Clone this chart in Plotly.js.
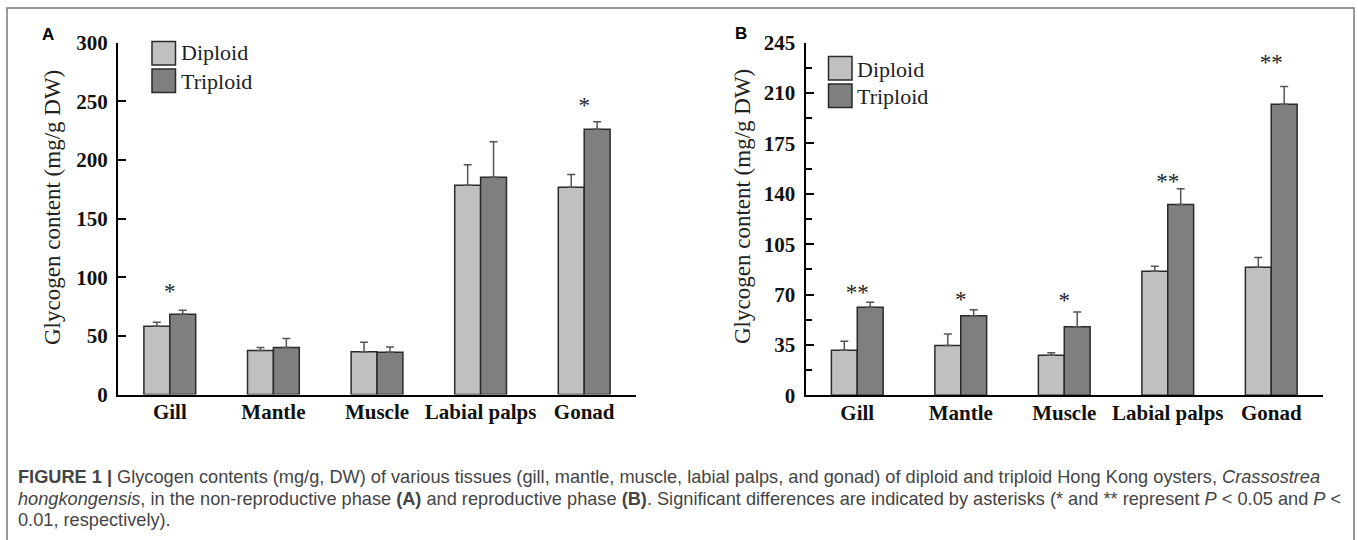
<!DOCTYPE html>
<html>
<head>
<meta charset="utf-8">
<script src="https://cdn.plot.ly/plotly-3.0.1.min.js"></script>
<style>html,body{margin:0;padding:0;background:#fff;}#chart{width:1358px;height:540px;}</style>
</head>
<body>
<div id="chart"></div>
<script>
// ---- data ----
const categories = ["Gill", "Mantle", "Muscle", "Labial palps", "Gonad"];

// Panel A: non-reproductive phase
const diploidA = [58.2, 37.5, 36.4, 178.4, 176.7];
const diploidErrA = [3.4, 2.5, 8.2, 17.6, 10.8];
const triploidA = [68.5, 40.0, 36.1, 185.2, 226.1];
const triploidErrA = [3.4, 7.7, 4.5, 30.4, 6.5];
const sigA = ["*", "", "", "", "*"];
const sigPosA = [86, null, null, null, 245];

// Panel B: reproductive phase
const diploidB = [31.3, 34.6, 27.9, 86.2, 88.9];
const diploidErrB = [6.2, 8.0, 1.6, 3.4, 6.9];
const triploidB = [61.1, 55.3, 47.7, 132.5, 202.3];
const triploidErrB = [3.5, 4.1, 10.1, 11.0, 12.2];
const sigB = ["**", "*", "*", "**", "**"];
const sigPosB = [70, 65, 64.5, 147, 230];

const legendNames = ["Diploid", "Triploid"];
const yTitle = "Glycogen content (mg/g DW)";
const captionLines = [
  "<b>FIGURE 1 |</b> Glycogen contents (mg/g, DW) of various tissues (gill, mantle, muscle, labial palps, and gonad) of diploid and triploid Hong Kong oysters, <i>Crassostrea</i>",
  "<i>hongkongensis</i>, in the non-reproductive phase <b>(A)</b> and reproductive phase <b>(B)</b>. Significant differences are indicated by asterisks (* and ** represent <i>P</i> &lt; 0.05 and <i>P</i> &lt;",
  "0.01, respectively)."
];

// ---- style ----
const W = 1358, H = 540;
const px = x => x / W;
const py = y => 1 - y / H;
const serif = "Liberation Serif, Times New Roman, serif";
const sans = "Liberation Sans, Arial, Helvetica, sans-serif";
const cD = "#c0c0c0", cT = "#7f7f7f", edge = "#2a2a2a", errC = "#555555";

function bars(vals, errs, name, color, xa, ya) {
  return {
    type: "bar", x: categories, y: vals, name: name, xaxis: xa, yaxis: ya,
    showlegend: false,
    marker: {color: color, line: {color: edge, width: 1.5}},
    error_y: {type: "data", symmetric: false, array: errs, arrayminus: errs.map(() => 0),
              color: errC, thickness: 1.5, width: 4},
    hoverinfo: "skip"
  };
}
function stars(sig, pos, xa, ya) {
  return {
    type: "scatter", mode: "text", x: categories, y: pos, text: sig,
    xaxis: xa, yaxis: ya, showlegend: false, hoverinfo: "skip",
    textposition: "middle center",
    textfont: {family: serif, size: 23, color: "#222"}
  };
}

const data = [
  bars(diploidA, diploidErrA, legendNames[0], cD, "x", "y"),
  bars(triploidA, triploidErrA, legendNames[1], cT, "x", "y"),
  stars(sigA, sigPosA, "x", "y"),
  bars(diploidB, diploidErrB, legendNames[0], cD, "x2", "y2"),
  bars(triploidB, triploidErrB, legendNames[1], cT, "x2", "y2"),
  stars(sigB, sigPosB, "x2", "y2")
];

const tickFontX = {family: serif, size: 21, color: "#111", weight: "bold"};
const tickFontY = {family: serif, size: 21, color: "#111", weight: "bold"};

function xaxis(d0, d1, anchor) {
  return {
    domain: [px(d0), px(d1)], anchor: anchor, type: "category",
    range: [-0.5, 4.5], showline: true, linecolor: "#000", linewidth: 2,
    ticks: "", showgrid: false, zeroline: false, tickfont: tickFontX,
    ticklabelstandoff: -3, fixedrange: true
  };
}
function yaxis(top, bottom, max, dtick, anchor, minor) {
  const a = {
    domain: [py(bottom), py(top)], anchor: anchor, range: [0, max],
    tickmode: "linear", tick0: 0, dtick: dtick,
    showline: true, linecolor: "#000", linewidth: 2,
    ticks: "inside", ticklen: 8, tickwidth: 2, tickcolor: "#000",
    showgrid: false, zeroline: false, tickfont: tickFontY,
    ticklabelstandoff: 4, fixedrange: true
  };
  if (minor) a.minor = {dtick: dtick / 2, tick0: 0, ticks: "inside", ticklen: 6, tickwidth: 2, tickcolor: "#000", showgrid: false};
  return a;
}

const shapes = [
  {type: "path", xref: "paper", yref: "paper",
   path: `M${px(7)},${py(545)} L${px(7)},${py(8)} L${px(1354)},${py(8)} L${px(1354)},${py(545)}`,
   line: {color: "#777", width: 1.5}}
];
const annotations = [];

function legend(x0, x1, yTop1, yBot1, yTop2, yBot2, tx, ty1, ty2) {
  shapes.push({type: "rect", xref: "paper", yref: "paper", x0: px(x0), x1: px(x1), y0: py(yBot1), y1: py(yTop1),
               fillcolor: cD, line: {color: edge, width: 1.5}});
  shapes.push({type: "rect", xref: "paper", yref: "paper", x0: px(x0), x1: px(x1), y0: py(yBot2), y1: py(yTop2),
               fillcolor: cT, line: {color: edge, width: 1.5}});
  annotations.push({xref: "paper", yref: "paper", x: px(tx), y: py(ty1), xanchor: "left", yanchor: "middle",
                    text: legendNames[0], showarrow: false, font: {family: serif, size: 22, color: "#222"}});
  annotations.push({xref: "paper", yref: "paper", x: px(tx), y: py(ty2), xanchor: "left", yanchor: "middle",
                    text: legendNames[1], showarrow: false, font: {family: serif, size: 22, color: "#222"}});
}
legend(152, 175.5, 41.5, 65, 69, 92.5, 179, 53, 81);
legend(828.5, 852, 56.5, 80, 84, 107.5, 855, 69, 96);

// y-axis titles
annotations.push({xref: "paper", yref: "paper", x: px(52), y: py(208), textangle: -90, xanchor: "center", yanchor: "middle",
                  text: yTitle, showarrow: false, font: {family: serif, size: 23, color: "#222"}});
annotations.push({xref: "paper", yref: "paper", x: px(743), y: py(207), textangle: -90, xanchor: "center", yanchor: "middle",
                  text: yTitle, showarrow: false, font: {family: serif, size: 23, color: "#222"}});
// panel labels
annotations.push({xref: "paper", yref: "paper", x: px(48), y: py(34), xanchor: "center", yanchor: "middle",
                  text: "<b>A</b>", showarrow: false, font: {family: sans, size: 17, color: "#000"}});
annotations.push({xref: "paper", yref: "paper", x: px(741), y: py(33), xanchor: "center", yanchor: "middle",
                  text: "<b>B</b>", showarrow: false, font: {family: sans, size: 17, color: "#000"}});
// caption
const capY = [477, 498.5, 520];
captionLines.forEach((t, i) => {
  annotations.push({xref: "paper", yref: "paper", x: px(16), y: py(capY[i]), xanchor: "left", yanchor: "middle",
                    text: t, showarrow: false, font: {family: sans, size: 18.2, color: "#444"}});
});

const layout = {
  width: W, height: H, margin: {l: 0, r: 0, t: 0, b: 0},
  paper_bgcolor: "#fff", plot_bgcolor: "rgba(0,0,0,0)",
  barmode: "group", bargap: 0.5, bargroupgap: 0,
  showlegend: false,
  xaxis: xaxis(118, 636, "y"),
  yaxis: yaxis(42.7, 394.5, 300, 50, "x", false),
  xaxis2: xaxis(805.5, 1323, "y2"),
  yaxis2: yaxis(42.7, 395.3, 245, 35, "x2", true),
  shapes: shapes,
  annotations: annotations
};

Plotly.newPlot("chart", data, layout, {displayModeBar: false, staticPlot: true});
</script>
</body>
</html>
